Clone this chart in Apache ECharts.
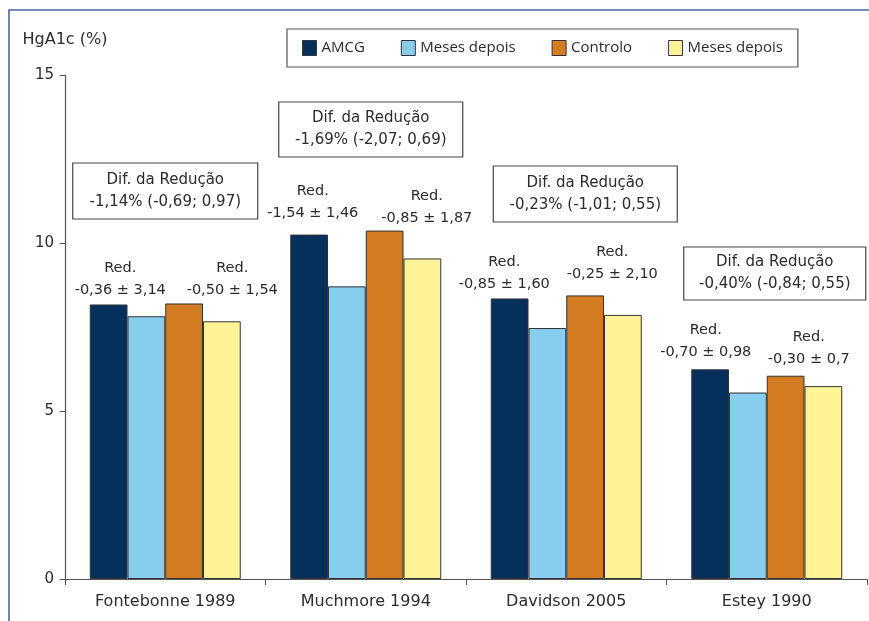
<!DOCTYPE html>
<html>
<head>
<meta charset="utf-8">
<script src="https://cdn.jsdelivr.net/npm/echarts@6/dist/echarts.min.js"></script>
<style>
  html, body { margin: 0; padding: 0; background: #ffffff; }
  #chart { width: 869px; height: 621px; }
</style>
</head>
<body>
<div id="chart"></div>
<script>
// Studies on the x axis
const studies = ['Fontebonne 1989', 'Muchmore 1994', 'Davidson 2005', 'Estey 1990'];

// HbA1c (%) per group: baseline and follow-up, for AMCG and control arms
const amcgBaseline    = [8.17, 10.25, 8.35, 6.24];
const amcgFollowUp    = [7.82, 8.71, 7.47, 5.55];
const controlBaseline = [8.20, 10.37, 8.44, 6.05];
const controlFollowUp = [7.67, 9.54, 7.86, 5.74];

// Series names shown in the legend
const seriesNames = ['AMCG', 'Meses depois', 'Controlo', 'Meses depois'];

// Reduction annotations (AMCG arm, control arm) and difference of reduction
const amcgReduction    = ['-0,36 ± 3,14', '-1,54 ± 1,46', '-0,85 ± 1,60', '-0,70 ± 0,98'];
const controlReduction = ['-0,50 ± 1,54', '-0,85 ± 1,87', '-0,25 ± 2,10', '-0,30 ± 0,7'];
const reductionDiff    = ['-1,14% (-0,69; 0,97)', '-1,69% (-2,07; 0,69)', '-0,23% (-1,01; 0,55)', '-0,40% (-0,84; 0,55)'];

// Value axis ticks
const yMin = 0, yMax = 15, yStep = 5;

const colors = ['#06305c', '#86cdee', '#d27b21', '#fff396'];
const textColor = '#2b2b2b';
const axisColor = '#555555';
const labelFont = 'DejaVu Sans';

const chart = echarts.init(document.getElementById('chart'), null, { renderer: 'canvas' });

const seriesData = [amcgBaseline, amcgFollowUp, controlBaseline, controlFollowUp];

// The two follow-up series share a label; a trailing space keeps their keys distinct
const seriesKeys = seriesNames.map((n, i) => n + ' '.repeat(seriesNames.slice(0, i).filter(m => m === n).length));

const option = {
  animation: false,
  backgroundColor: '#ffffff',
  grid: { left: 65, right: 2, top: 75, bottom: 42, containLabel: false },
  legend: {
    left: 287,
    top: 29,
    orient: 'horizontal',
    padding: [11, 15, 11, 15],
    itemGap: 36,
    itemWidth: 14,
    itemHeight: 15,
    borderColor: '#555555',
    borderWidth: 1.2,
    backgroundColor: '#ffffff',
    selectedMode: false,
    data: seriesKeys.map((k, i) => ({
      name: k,
      icon: 'rect',
      itemStyle: { color: colors[i], borderColor: '#333333', borderWidth: 1 }
    })),
    formatter: function (name) {
      return seriesNames[seriesKeys.indexOf(name)];
    },
    textStyle: { fontFamily: 'Open Sans', fontSize: 15, color: textColor }
  },
  xAxis: {
    type: 'category',
    data: studies,
    axisLine: { show: true, lineStyle: { color: axisColor, width: 1.2 } },
    axisTick: { show: true, length: 6, lineStyle: { color: axisColor } },
    axisLabel: { fontFamily: labelFont, fontSize: 16, color: textColor, margin: 15 },
    splitLine: { show: false }
  },
  yAxis: {
    type: 'value',
    min: yMin,
    max: yMax,
    interval: yStep,
    name: 'HgA1c (%)',
    nameLocation: 'end',
    nameGap: 27,
    nameTextStyle: { fontFamily: labelFont, fontSize: 16, color: textColor, align: 'center' },
    axisLine: { show: true, lineStyle: { color: axisColor, width: 1.2 } },
    axisTick: { show: true, length: 5, inside: false, lineStyle: { color: axisColor } },
    axisLabel: { fontFamily: labelFont, fontSize: 15, color: textColor, margin: 11 },
    splitLine: { show: false }
  },
  series: seriesData.map((d, i) => ({
    type: 'bar',
    name: seriesKeys[i],
    data: d,
    barGap: '0%',
    barCategoryGap: '24.7%',
    itemStyle: { color: colors[i], borderColor: '#333333', borderWidth: 1 },
    emphasis: { disabled: true }
  }))
};

chart.setOption(option);

// Annotation layout: x offset from each category centre and y of the "Red." line, in pixels
const redLayout = [
  { a: [-45, 268], c: [67, 268] },
  { a: [-53, 191], c: [61, 196] },
  { a: [-62, 262], c: [46, 252] },
  { a: [-61, 330], c: [42, 337] }
];
const boxLayout = [
  { dx: 0,   top: 163, w: 185, h: 56 },
  { dx: 5,   top: 102, w: 184, h: 55 },
  { dx: 19,  top: 166, w: 184, h: 56 },
  { dx: 8,   top: 247, w: 182, h: 53 }
];

const elements = [];
studies.forEach((s, i) => {
  const cx = chart.convertToPixel({ xAxisIndex: 0 }, s);
  const pairs = [[amcgReduction[i], redLayout[i].a], [controlReduction[i], redLayout[i].c]];
  pairs.forEach(([txt, pos]) => {
    elements.push({
      type: 'text',
      x: cx + pos[0],
      y: pos[1] + 11,
      style: {
        text: 'Red.\n' + txt,
        fontFamily: labelFont,
        fontSize: 14.5,
        lineHeight: 22,
        fill: textColor,
        align: 'center',
        verticalAlign: 'middle'
      }
    });
  });
  const b = boxLayout[i];
  const bx = cx + b.dx;
  elements.push({
    type: 'rect',
    shape: { x: bx - b.w / 2, y: b.top, width: b.w, height: b.h },
    style: { fill: '#ffffff', stroke: '#444444', lineWidth: 1.2 }
  });
  elements.push({
    type: 'text',
    x: bx,
    y: b.top + b.h / 2,
    style: {
      text: 'Dif. da Redução\n' + reductionDiff[i],
      fontFamily: labelFont,
      fontSize: 15,
      lineHeight: 22,
      fill: textColor,
      align: 'center',
      verticalAlign: 'middle'
    }
  });
});

// Frame lines along the top and left edge
elements.push({
  type: 'polyline',
  shape: { points: [[9, 621], [9, 10], [869, 10]] },
  style: { stroke: '#46689a', lineWidth: 1.6, fill: null }
});

chart.setOption({ graphic: { elements: elements } });
</script>
</body>
</html>
